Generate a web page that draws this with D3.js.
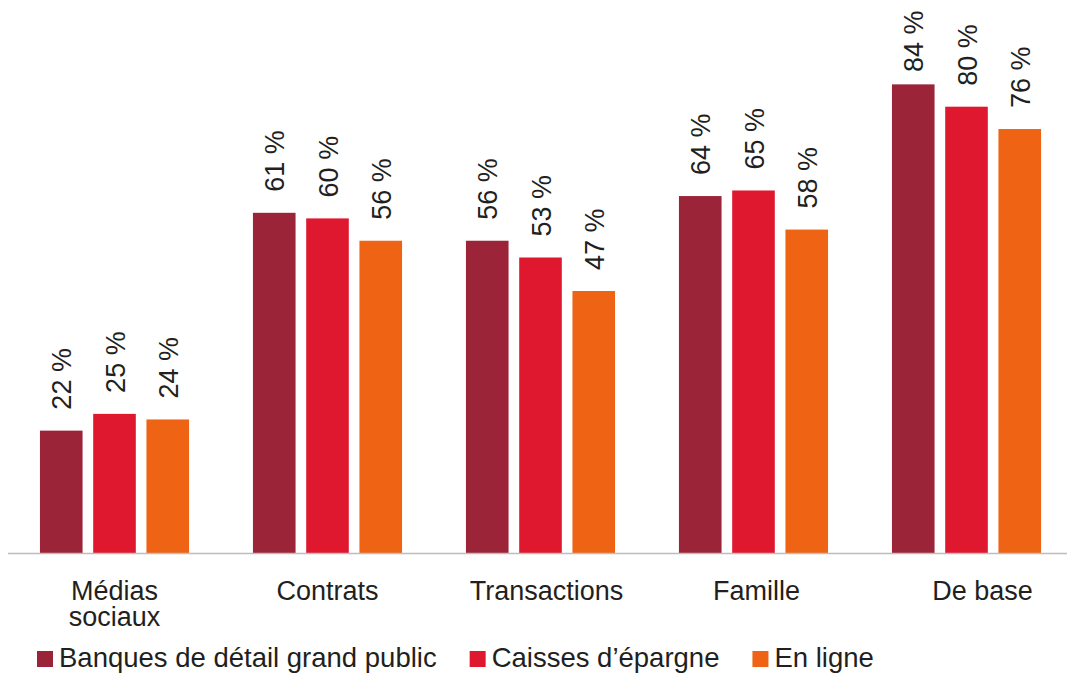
<!DOCTYPE html>
<html lang="fr">
<head>
<meta charset="utf-8">
<script src="https://cdn.jsdelivr.net/npm/d3@7"></script>
<style>
  html, body { margin: 0; padding: 0; background: #fff; }
  svg { display: block; font-family: "Liberation Sans", Arial, Helvetica, sans-serif; }
  text { fill: #231f20; }
</style>
</head>
<body>
<svg id="chart" width="1067" height="675"></svg>
<script>
// Catégories (lignes de libellé) et séries
const categories = ["Médias sociaux", "Contrats", "Transactions", "Famille", "De base"];
const categoryLines = [["Médias", "sociaux"], ["Contrats"], ["Transactions"], ["Famille"], ["De base"]];
const seriesNames = ["Banques de détail grand public", "Caisses d’épargne", "En ligne"];
const banquesDetail = [22, 61, 56, 64, 84];
const caissesEpargne = [25, 60, 53, 65, 80];
const enLigne = [24, 56, 47, 58, 76];

// Mise en page
const W = 1067, H = 675;
const baseY = 553.5;
const colors = ["#9c2438", "#e0182f", "#ee6414"];
const labelNudge = [0, 0, 6, 3, 16];   // décalage horizontal des libellés de catégorie
const fontSize = 27;
const legendFontSize = 27.5;

const seriesValues = [banquesDetail, caissesEpargne, enLigne];
const rows = categories.map((c, i) => ({
  category: c,
  index: i,
  values: seriesNames.map((s, j) => ({ series: s, j, value: seriesValues[j][i] }))
}));

const svg = d3.select("#chart");

const x0 = d3.scaleBand()
  .domain(categories)
  .range([8, 1073])
  .paddingInner(0.3)
  .paddingOuter(0.15);

const x1 = d3.scaleBand()
  .domain(seriesNames)
  .range([0, x0.bandwidth()])
  .paddingInner(0.2);

const y = d3.scaleLinear().domain([0, 100]).range([baseY, -5]);
const color = d3.scaleOrdinal().domain(seriesNames).range(colors);

// Barres
const groups = svg.append("g").selectAll("g")
  .data(rows)
  .join("g")
  .attr("transform", d => `translate(${x0(d.category)},0)`);

groups.selectAll("rect")
  .data(d => d.values)
  .join("rect")
  .attr("x", d => x1(d.series))
  .attr("y", d => y(d.value))
  .attr("width", x1.bandwidth())
  .attr("height", d => y(0) - y(d.value))
  .attr("fill", d => color(d.series));

// Étiquettes de valeur, verticales
groups.selectAll("text.val")
  .data(d => d.values)
  .join("text")
  .attr("class", "val")
  .attr("transform", d => {
    const cx = x1(d.series) + x1.bandwidth() / 2;
    const ty = Math.max(y(d.value) - 21, 72);
    return `translate(${cx},${ty}) rotate(-90)`;
  })
  .attr("dy", "0.37em")
  .attr("text-anchor", "start")
  .style("font-size", fontSize + "px")
  .text(d => `${d.value} %`);

// Ligne de base
svg.append("line")
  .attr("x1", 8).attr("x2", W)
  .attr("y1", baseY).attr("y2", baseY)
  .attr("stroke", "#bdbdbd")
  .attr("stroke-width", 1.6);

// Libellés de catégorie
const catLabels = svg.append("g").selectAll("text")
  .data(rows)
  .join("text")
  .attr("x", d => x0(d.category) + x0.bandwidth() / 2 + labelNudge[d.index])
  .attr("y", 600)
  .attr("text-anchor", "middle")
  .style("font-size", fontSize + "px");

catLabels.selectAll("tspan")
  .data(d => categoryLines[d.index].map(t => ({ t, x: x0(d.category) + x0.bandwidth() / 2 + labelNudge[d.index] })))
  .join("tspan")
  .attr("x", d => d.x)
  .attr("dy", (d, i) => i === 0 ? 0 : 26)
  .text(d => d.t);

// Légende
const legend = svg.append("g").attr("transform", "translate(37,0)");
let lx = 0;
seriesNames.forEach((s, j) => {
  const item = legend.append("g").attr("transform", `translate(${lx},0)`);
  item.append("rect")
    .attr("x", 0).attr("y", 651)
    .attr("width", 16).attr("height", 16)
    .attr("fill", color(s));
  const t = item.append("text")
    .attr("x", 22).attr("y", 667)
    .style("font-size", legendFontSize + "px")
    .text(s);
  lx += 22 + t.node().getComputedTextLength() + 33;
});
</script>
</body>
</html>
